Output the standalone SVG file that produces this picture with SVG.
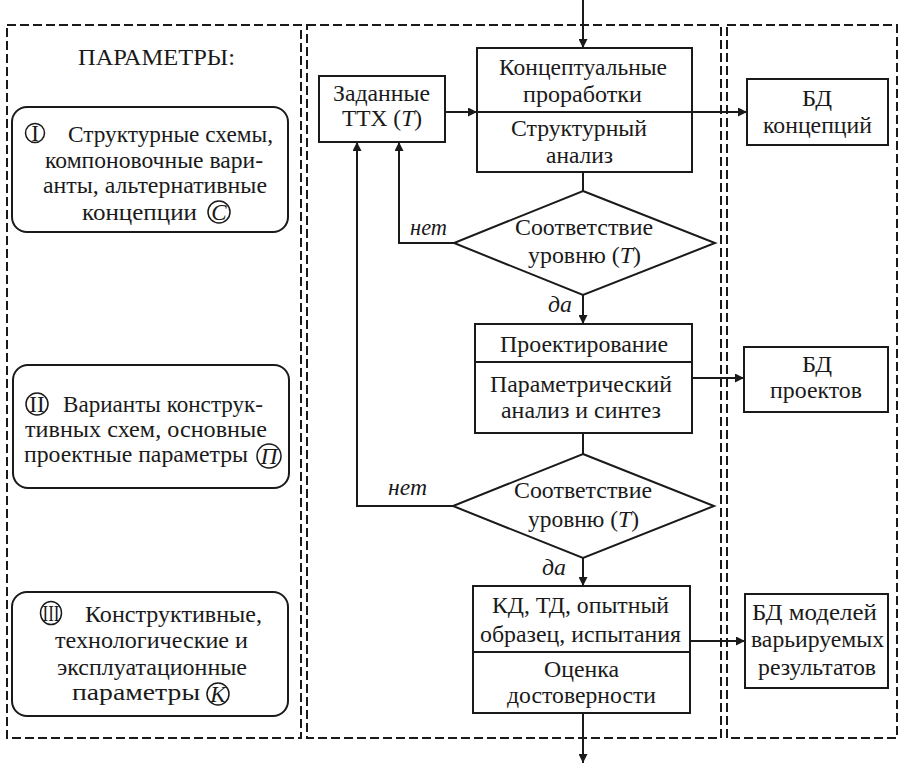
<svg xmlns="http://www.w3.org/2000/svg" width="899" height="765" viewBox="0 0 899 765">
<defs>
<marker id="ah" viewBox="0 0 10 10" refX="10" refY="5" markerWidth="11" markerHeight="9" markerUnits="userSpaceOnUse" orient="auto"><path d="M0,0 L10,5 L0,10 Z" fill="#1a1a1a"/></marker>
</defs>
<style>
.panel{fill:none;stroke:#1a1a1a;stroke-width:2;stroke-dasharray:9 4}
.box{fill:#fff;stroke:#1a1a1a;stroke-width:2}
.ln{fill:none;stroke:#1a1a1a;stroke-width:2}
.ar{fill:none;stroke:#1a1a1a;stroke-width:2;marker-end:url(#ah)}
text{font-family:'Liberation Serif','Times New Roman',serif;font-size:23px;fill:#1a1a1a;text-anchor:middle}
.it{font-style:italic}
.st{text-anchor:start}
.cir{fill:none;stroke:#1a1a1a;stroke-width:1.5}
</style>
<rect width="899" height="765" fill="#fff"/>
<g id="panels">
<rect class="panel" x="7" y="25" width="294" height="713"/>
<rect class="panel" x="307" y="25" width="414" height="713"/>
<rect class="panel" x="727" y="25" width="170" height="713"/>
</g>
<g id="connectors">
<line class="ar" x1="583" y1="0" x2="583" y2="48"/>
<line class="ar" x1="445" y1="112" x2="477" y2="112"/>
<line class="ar" x1="692" y1="112" x2="747" y2="112"/>
<line class="ln" x1="583" y1="172" x2="583" y2="191"/>
<polyline class="ar" points="454,243 399,243 399,142"/>
<line class="ar" x1="583" y1="295" x2="583" y2="324"/>
<line class="ar" x1="692" y1="378" x2="744" y2="378"/>
<line class="ln" x1="583" y1="433" x2="583" y2="454"/>
<polyline class="ar" points="453,506 357,506 357,142"/>
<line class="ar" x1="583" y1="558" x2="583" y2="586"/>
<line class="ar" x1="690" y1="641" x2="745" y2="641"/>
<line class="ar" x1="583" y1="713" x2="583" y2="763"/>
<text class="it" x="428.5" y="235" textLength="37" lengthAdjust="spacingAndGlyphs">нет</text>
<text class="it" x="560" y="312" textLength="24" lengthAdjust="spacingAndGlyphs">да</text>
<text class="it" x="407.5" y="495" textLength="39" lengthAdjust="spacingAndGlyphs">нет</text>
<text class="it" x="554" y="575" textLength="24" lengthAdjust="spacingAndGlyphs">да</text>
</g>
<g id="params-title"><text x="156.5" y="65" textLength="157" lengthAdjust="spacingAndGlyphs">ПАРАМЕТРЫ:</text></g>
<g id="param-1">
<rect class="box" x="12" y="107" width="276" height="125" rx="15"/>
<circle class="cir" cx="35" cy="133" r="9.5"/>
<text x="35" y="141" font-size="21">I</text>
<text class="st" x="68" y="142" textLength="205" lengthAdjust="spacingAndGlyphs">Структурные схемы,</text>
<text x="154" y="168" textLength="218" lengthAdjust="spacingAndGlyphs">компоновочные вари-</text>
<text x="155" y="193" textLength="224" lengthAdjust="spacingAndGlyphs">анты, альтернативные</text>
<text x="139.5" y="220" textLength="115" lengthAdjust="spacingAndGlyphs">концепции</text>
<circle class="cir" cx="219" cy="212" r="11"/>
<text class="it" x="219" y="220" font-size="21">C</text>
</g>
<g id="param-2">
<rect class="box" x="13" y="365" width="276" height="123" rx="15"/>
<circle class="cir" cx="37" cy="404" r="11"/>
<text x="37" y="412" font-size="21">II</text>
<text class="st" x="63" y="412" textLength="200" lengthAdjust="spacingAndGlyphs">Варианты конструк-</text>
<text x="146" y="437" textLength="242" lengthAdjust="spacingAndGlyphs">тивных схем, основные</text>
<text x="136" y="462" textLength="224" lengthAdjust="spacingAndGlyphs">проектные параметры</text>
<circle class="cir" cx="269" cy="456" r="12"/>
<text class="it" x="269" y="464" font-size="20">П</text>
</g>
<g id="param-3">
<rect class="box" x="12" y="592" width="276" height="124" rx="15"/>
<ellipse class="cir" cx="51" cy="613" rx="10.5" ry="11.5"/>
<text x="51" y="621" font-size="21" textLength="17" lengthAdjust="spacingAndGlyphs">III</text>
<text class="st" x="85" y="622" textLength="177" lengthAdjust="spacingAndGlyphs">Конструктивные,</text>
<text x="151.5" y="648" textLength="193" lengthAdjust="spacingAndGlyphs">технологические и</text>
<text x="152" y="675" textLength="190" lengthAdjust="spacingAndGlyphs">эксплуатационные</text>
<text x="136" y="700" textLength="128" lengthAdjust="spacingAndGlyphs">параметры</text>
<circle class="cir" cx="218" cy="694" r="11"/>
<text class="it" x="218" y="702" font-size="21">K</text>
</g>
<g id="ttx">
<rect class="box" x="319" y="76" width="126" height="66"/>
<text x="381.5" y="101" textLength="97" lengthAdjust="spacingAndGlyphs">Заданные</text>
<text x="382" y="126" textLength="80" lengthAdjust="spacingAndGlyphs">ТТХ (<tspan class="it">T</tspan>)</text>
</g>
<g id="concept">
<rect class="box" x="477" y="48" width="215" height="124"/>
<line class="ln" x1="477" y1="112" x2="692" y2="112"/>
<text x="583" y="75" textLength="168" lengthAdjust="spacingAndGlyphs">Концептуальные</text>
<text x="582.5" y="102" textLength="119" lengthAdjust="spacingAndGlyphs">проработки</text>
<text x="579" y="136" textLength="136" lengthAdjust="spacingAndGlyphs">Структурный</text>
<text x="579.5" y="163" textLength="67" lengthAdjust="spacingAndGlyphs">анализ</text>
</g>
<g id="check-1">
<polygon class="box" points="583,191 715,243 583,295 454,243"/>
<text x="584" y="235" textLength="138" lengthAdjust="spacingAndGlyphs">Соответствие</text>
<text x="584.5" y="263" textLength="113" lengthAdjust="spacingAndGlyphs">уровню (<tspan class="it">T</tspan>)</text>
</g>
<g id="design">
<rect class="box" x="475" y="324" width="217" height="109"/>
<line class="ln" x1="475" y1="362" x2="692" y2="362"/>
<text x="584" y="352" textLength="168" lengthAdjust="spacingAndGlyphs">Проектирование</text>
<text x="581" y="392" textLength="182" lengthAdjust="spacingAndGlyphs">Параметрический</text>
<text x="581" y="418" textLength="160" lengthAdjust="spacingAndGlyphs">анализ и синтез</text>
</g>
<g id="check-2">
<polygon class="box" points="583,454 714,506 583,558 453,506"/>
<text x="583" y="498" textLength="138" lengthAdjust="spacingAndGlyphs">Соответствие</text>
<text x="583.5" y="527" textLength="111" lengthAdjust="spacingAndGlyphs">уровню (<tspan class="it">T</tspan>)</text>
</g>
<g id="kd">
<rect class="box" x="473" y="586" width="217" height="127"/>
<line class="ln" x1="473" y1="652" x2="690" y2="652"/>
<text x="580.5" y="613" textLength="177" lengthAdjust="spacingAndGlyphs">КД, ТД, опытный</text>
<text x="580.5" y="642" textLength="201" lengthAdjust="spacingAndGlyphs">образец, испытания</text>
<text x="581.5" y="677" textLength="75" lengthAdjust="spacingAndGlyphs">Оценка</text>
<text x="581.5" y="703" textLength="149" lengthAdjust="spacingAndGlyphs">достоверности</text>
</g>
<g id="db-concept">
<rect class="box" x="747" y="79" width="141" height="66"/>
<text x="817" y="106" textLength="30" lengthAdjust="spacingAndGlyphs">БД</text>
<text x="817.5" y="133" textLength="109" lengthAdjust="spacingAndGlyphs">концепций</text>
</g>
<g id="db-projects">
<rect class="box" x="744" y="347" width="144" height="65"/>
<text x="817" y="372" textLength="30" lengthAdjust="spacingAndGlyphs">БД</text>
<text x="816" y="398" textLength="92" lengthAdjust="spacingAndGlyphs">проектов</text>
</g>
<g id="db-models">
<rect class="box" x="745" y="594" width="143" height="94"/>
<text x="814.5" y="620" textLength="125" lengthAdjust="spacingAndGlyphs">БД моделей</text>
<text x="817.5" y="647" textLength="133" lengthAdjust="spacingAndGlyphs">варьируемых</text>
<text x="817" y="675" textLength="118" lengthAdjust="spacingAndGlyphs">результатов</text>
</g>
</svg>
